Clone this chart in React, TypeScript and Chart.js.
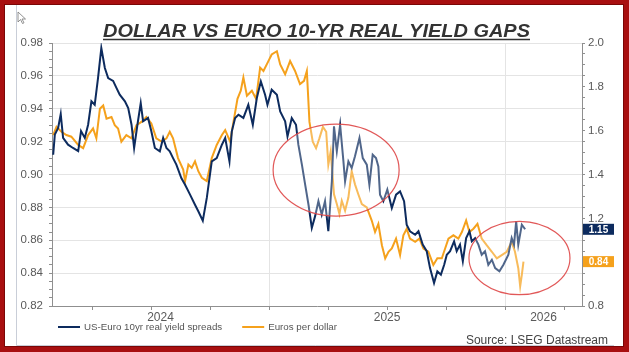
import React, { useEffect, useRef } from 'react';
import { Chart, registerables } from 'chart.js';

Chart.register(...registerables);

const FONT = '"Liberation Sans", Arial, Helvetica, sans-serif';
const TITLE = 'DOLLAR VS EURO 10-YR REAL YIELD GAPS';
const SOURCE = 'Source: LSEG Datastream';
const seriesNames = ['US-Euro 10yr real yield spreads', 'Euros per dollar'];
const seriesColors = ['#0d2b5e', '#f5a11c'];
const endLabels = ['1.15', '0.84'];

const yearLabels = ['2024', '2025', '2026'];
const yearStarts = [2024, 2025, 2026];
const quarterTicks = [2024.25, 2024.5, 2024.75, 2025, 2025.25, 2025.5, 2025.75, 2026, 2026.25];
const X_MIN = 2024.08;
const X_MAX = 2026.326;
const leftTickValues = [0.82, 0.84, 0.86, 0.88, 0.9, 0.92, 0.94, 0.96, 0.98];
const rightTickValues = [0.8, 1.0, 1.2, 1.4, 1.6, 1.8, 2.0];

// US-Euro 10yr real yield spread (right axis), x = decimal year
const spreadDates = [
  2024.085, 2024.092, 2024.106, 2024.117, 2024.127, 2024.148, 2024.169, 2024.191, 2024.203, 2024.219,
  2024.233, 2024.247, 2024.261, 2024.275, 2024.289, 2024.304, 2024.318, 2024.339, 2024.353, 2024.367,
  2024.389, 2024.403, 2024.417, 2024.428, 2024.442, 2024.456, 2024.466, 2024.487, 2024.501, 2024.516,
  2024.537, 2024.551, 2024.565, 2024.579, 2024.593, 2024.607, 2024.628, 2024.644, 2024.665, 2024.686,
  2024.7, 2024.719, 2024.736, 2024.757, 2024.778, 2024.8, 2024.814, 2024.832, 2024.842, 2024.856,
  2024.87, 2024.891, 2024.912, 2024.931, 2024.948, 2024.965, 2024.983, 2024.993, 2025.011, 2025.033,
  2025.047, 2025.068, 2025.078, 2025.096, 2025.114, 2025.124, 2025.139, 2025.153, 2025.167, 2025.181,
  2025.195, 2025.209, 2025.223, 2025.237, 2025.251, 2025.266, 2025.275, 2025.287, 2025.301, 2025.315,
  2025.322, 2025.336, 2025.35, 2025.364, 2025.383, 2025.397, 2025.414, 2025.425, 2025.439, 2025.453,
  2025.463, 2025.47, 2025.484, 2025.501, 2025.52, 2025.538, 2025.555, 2025.572, 2025.583, 2025.597,
  2025.619, 2025.633, 2025.651, 2025.668, 2025.682, 2025.699, 2025.713, 2025.728, 2025.742, 2025.753,
  2025.767, 2025.784, 2025.795, 2025.809, 2025.821, 2025.835, 2025.849, 2025.859, 2025.873, 2025.887,
  2025.901, 2025.915, 2025.929, 2025.944, 2025.958, 2025.976, 2025.993, 2026.014, 2026.028, 2026.038,
  2026.047, 2026.056, 2026.071, 2026.085,
];
const spreadValues = [
  1.49, 1.582, 1.612, 1.676, 1.567, 1.536, 1.521, 1.507, 1.598, 1.567,
  1.627, 1.734, 1.718, 1.84, 1.977, 1.886, 1.84, 1.827, 1.795, 1.764,
  1.734, 1.703, 1.627, 1.521, 1.627, 1.726, 1.643, 1.658, 1.597, 1.521,
  1.506, 1.567, 1.521, 1.506, 1.475, 1.445, 1.384, 1.353, 1.308, 1.262,
  1.232, 1.189, 1.293, 1.46, 1.475, 1.536, 1.567, 1.46, 1.597, 1.658,
  1.673, 1.658, 1.718, 1.627, 1.749, 1.825, 1.764, 1.718, 1.787, 1.764,
  1.688, 1.643, 1.574, 1.658, 1.627, 1.536, 1.445, 1.353, 1.262, 1.156,
  1.21, 1.278, 1.217, 1.278, 1.141, 1.369, 1.62, 1.506, 1.627, 1.46,
  1.369, 1.46, 1.43, 1.483, 1.567, 1.475, 1.445, 1.353, 1.49, 1.475,
  1.437, 1.308, 1.278, 1.331, 1.247, 1.308, 1.323, 1.278, 1.171, 1.141,
  1.125, 1.141, 1.08, 1.05, 0.973, 0.905, 0.958, 0.943, 0.988, 1.034,
  1.05, 1.095, 1.05, 1.08, 1.004, 1.11, 1.141, 1.095, 1.11, 1.08,
  1.034, 1.05, 0.988, 1.011, 0.973, 0.958, 0.988, 1.034, 1.11, 1.08,
  1.186, 1.08, 1.171, 1.15,
];

// Euros per dollar (left axis)
const eurDates = [
  2024.085, 2024.099, 2024.12, 2024.141, 2024.162, 2024.191, 2024.212, 2024.233, 2024.254, 2024.268,
  2024.283, 2024.297, 2024.311, 2024.332, 2024.346, 2024.36, 2024.374, 2024.395, 2024.417, 2024.438,
  2024.459, 2024.48, 2024.501, 2024.522, 2024.544, 2024.565, 2024.579, 2024.593, 2024.614, 2024.636,
  2024.644, 2024.658, 2024.672, 2024.686, 2024.7, 2024.715, 2024.736, 2024.757, 2024.778, 2024.8,
  2024.814, 2024.835, 2024.849, 2024.866, 2024.88, 2024.891, 2024.906, 2024.927, 2024.945, 2024.962,
  2024.976, 2024.997, 2025.011, 2025.033, 2025.047, 2025.068, 2025.089, 2025.11, 2025.131, 2025.148,
  2025.16, 2025.171, 2025.185, 2025.199, 2025.213, 2025.228, 2025.242, 2025.251, 2025.261, 2025.275,
  2025.287, 2025.298, 2025.308, 2025.322, 2025.336, 2025.35, 2025.364, 2025.378, 2025.393, 2025.414,
  2025.435, 2025.449, 2025.463, 2025.478, 2025.492, 2025.506, 2025.52, 2025.538, 2025.555, 2025.569,
  2025.583, 2025.597, 2025.619, 2025.637, 2025.654, 2025.675, 2025.696, 2025.713, 2025.732, 2025.746,
  2025.76, 2025.781, 2025.802, 2025.817, 2025.835, 2025.849, 2025.866, 2025.883, 2025.901, 2025.922,
  2025.944, 2025.965, 2025.986, 2026.007, 2026.028, 2026.042, 2026.056, 2026.064, 2026.071, 2026.078,
];
const eurValues = [
  0.924, 0.929, 0.926, 0.924, 0.923, 0.918, 0.916, 0.924, 0.928, 0.922,
  0.94, 0.942, 0.934, 0.935, 0.93, 0.928, 0.92, 0.924, 0.922, 0.93,
  0.932, 0.935, 0.931, 0.922, 0.92, 0.922, 0.926, 0.922, 0.91, 0.903,
  0.896, 0.906, 0.904, 0.908, 0.902, 0.898, 0.896, 0.91, 0.918, 0.924,
  0.927, 0.92, 0.932, 0.946, 0.951, 0.959, 0.948, 0.951, 0.946, 0.965,
  0.963, 0.969, 0.973, 0.975, 0.967, 0.961, 0.969, 0.963, 0.955, 0.957,
  0.963, 0.932, 0.92, 0.916, 0.922, 0.929, 0.926, 0.906, 0.914, 0.888,
  0.882, 0.876, 0.884, 0.878, 0.886, 0.902, 0.894, 0.888, 0.882, 0.88,
  0.872, 0.865, 0.87, 0.857, 0.849, 0.853, 0.855, 0.861, 0.851, 0.863,
  0.867, 0.861, 0.859, 0.861, 0.855, 0.853, 0.845, 0.849, 0.849, 0.855,
  0.861, 0.863, 0.861, 0.865, 0.872, 0.865, 0.867, 0.87, 0.861, 0.857,
  0.853, 0.849, 0.851, 0.853, 0.859, 0.853, 0.843, 0.832, 0.839, 0.847,
];

// hand-drawn red ellipses (in data units: x years, y left-axis units)
const ellipseCenterX = [2025.284, 2026.061];
const ellipseCenterY = [0.9027, 0.8492];
const ellipseRadiusX = [0.267, 0.214];
const ellipseRadiusY = [0.028, 0.0223];

function buildYTicks(majors: number[], decimals: number) {
  const out: any[] = [];
  for (let i = 0; i < majors.length; i++) {
    out.push({ value: majors[i], lbl: majors[i].toFixed(decimals), isMajor: true });
    if (i < majors.length - 1) {
      const step = (majors[i + 1] - majors[i]) / 4;
      for (let k = 1; k < 4; k++) out.push({ value: majors[i] + k * step });
    }
  }
  return out;
}

function buildXTicks() {
  const t: any[] = quarterTicks.map((v) => ({ value: v, boundary: Math.abs(v - Math.round(v)) < 1e-9 }));
  yearLabels.forEach((lbl, i) => {
    const a = Math.max(yearStarts[i], X_MIN);
    const b = Math.min(yearStarts[i] + 1, X_MAX);
    t.push({ value: (a + b) / 2, lbl });
  });
  return t.sort((p, q) => p.value - q.value);
}

const AXIS = '#8f8f8f';
const GRID = '#e4e4e4';
const LABEL = '#5a5a5a';
const CLEAR = 'rgba(0,0,0,0)';

const decor = {
  id: 'decor',
  beforeDraw(chart: any) {
    const { ctx, width, height } = chart;
    ctx.save();
    ctx.fillStyle = '#a80f10';
    ctx.fillRect(0, 0, width, height);
    ctx.fillStyle = '#ffffff';
    ctx.fillRect(5, 5, width - 11, height - 11);
    ctx.strokeStyle = '#7a0606';
    ctx.lineWidth = 1;
    ctx.strokeRect(4.5, 4.5, width - 10, height - 10);
    ctx.strokeStyle = '#c9ced8';
    ctx.beginPath();
    ctx.moveTo(16.5, 5);
    ctx.lineTo(16.5, 345.5);
    ctx.lineTo(614, 345.5);
    ctx.stroke();
    ctx.restore();
  },
  afterDatasetsDraw(chart: any) {
    const { ctx } = chart;
    const xs = chart.scales.x;
    const ys = chart.scales.y;
    ctx.save();
    for (let i = 0; i < ellipseCenterX.length; i++) {
      const cx = xs.getPixelForValue(ellipseCenterX[i]);
      const cy = ys.getPixelForValue(ellipseCenterY[i]);
      const rx = Math.abs(xs.getPixelForValue(ellipseCenterX[i] + ellipseRadiusX[i]) - cx);
      const ry = Math.abs(ys.getPixelForValue(ellipseCenterY[i] + ellipseRadiusY[i]) - cy);
      ctx.beginPath();
      ctx.ellipse(cx, cy, rx, ry, 0, 0, Math.PI * 2);
      ctx.fillStyle = 'rgba(255,255,255,0.28)';
      ctx.fill();
      ctx.strokeStyle = 'rgba(222,70,70,0.9)';
      ctx.lineWidth = 1.2;
      ctx.stroke();
    }
    ctx.restore();
  },
  afterDraw(chart: any) {
    const { ctx, chartArea } = chart;
    ctx.save();
    // end-value boxes
    chart.data.datasets.forEach((ds: any, i: number) => {
      const last = ds.data[ds.data.length - 1];
      const sc = chart.scales[ds.yAxisID];
      const y = sc.getPixelForValue(last.y);
      const x0 = chartArea.right + 1;
      ctx.fillStyle = seriesColors[i];
      ctx.fillRect(x0, y - 5.5, 31, 11);
      ctx.fillStyle = '#ffffff';
      ctx.font = `bold 10px ${FONT}`;
      ctx.textAlign = 'center';
      ctx.textBaseline = 'middle';
      ctx.fillText(endLabels[i], x0 + 15.5, y + 0.5);
    });
    // title
    ctx.font = `italic bold 18px ${FONT}`;
    const w = ctx.measureText(TITLE).width;
    const target = 427;
    const cx = 316.5;
    ctx.save();
    ctx.translate(cx, 37);
    ctx.scale(target / w, 1);
    ctx.fillStyle = '#333333';
    ctx.textAlign = 'center';
    ctx.textBaseline = 'alphabetic';
    ctx.fillText(TITLE, 0, 0);
    ctx.restore();
    ctx.strokeStyle = '#333333';
    ctx.lineWidth = 1.5;
    ctx.beginPath();
    ctx.moveTo(cx - target / 2, 39.5);
    ctx.lineTo(cx + target / 2, 39.5);
    ctx.stroke();
    // legend
    ctx.font = `9.75px ${FONT}`;
    ctx.textBaseline = 'middle';
    ctx.textAlign = 'left';
    let lx = 58;
    const ly = 327;
    chart.data.datasets.forEach((ds: any, i: number) => {
      ctx.strokeStyle = seriesColors[i];
      ctx.lineWidth = 2;
      ctx.beginPath();
      ctx.moveTo(lx, ly);
      ctx.lineTo(lx + 22, ly);
      ctx.stroke();
      ctx.fillStyle = '#555555';
      ctx.fillText(ds.label, lx + 26, ly + 0.5);
      lx += 26 + ctx.measureText(ds.label).width + 20;
    });
    // source
    ctx.font = `12px ${FONT}`;
    ctx.fillStyle = '#444444';
    ctx.textAlign = 'right';
    ctx.fillText(SOURCE, 608, 341);
    // mouse cursor glyph
    ctx.beginPath();
    ctx.moveTo(18, 12);
    ctx.lineTo(18, 22);
    ctx.lineTo(20.5, 19.5);
    ctx.lineTo(22.5, 23.5);
    ctx.lineTo(24, 22.8);
    ctx.lineTo(22, 19);
    ctx.lineTo(25.5, 19);
    ctx.closePath();
    ctx.fillStyle = '#ffffff';
    ctx.fill();
    ctx.strokeStyle = '#777777';
    ctx.lineWidth = 0.8;
    ctx.stroke();
    ctx.restore();
  },
};

export default function App() {
  const ref = useRef<HTMLCanvasElement>(null);
  useEffect(() => {
    const spreadPts = spreadDates.map((d, i) => ({ x: d, y: spreadValues[i] }));
    const eurPts = eurDates.map((d, i) => ({ x: d, y: eurValues[i] }));
    const leftTicks = buildYTicks(leftTickValues, 2);
    const rightTicks = buildYTicks(rightTickValues, 1);
    const xTicks = buildXTicks();
    const chart = new Chart(ref.current as HTMLCanvasElement, {
      type: 'line',
      data: {
        datasets: [
          {
            label: seriesNames[0],
            data: spreadPts,
            yAxisID: 'y1',
            borderColor: seriesColors[0],
            borderWidth: 2,
            pointRadius: 0,
            tension: 0,
          },
          {
            label: seriesNames[1],
            data: eurPts,
            yAxisID: 'y',
            borderColor: seriesColors[1],
            borderWidth: 2,
            pointRadius: 0,
            tension: 0,
          },
        ],
      },
      options: {
        responsive: false,
        animation: false,
        devicePixelRatio: 1,
        layout: { padding: { top: 43, left: 0, right: 0, bottom: 0 } },
        plugins: { legend: { display: false }, tooltip: { enabled: false }, title: { display: false } },
        scales: {
          x: {
            type: 'linear',
            min: X_MIN,
            max: X_MAX,
            afterFit: (s: any) => { s.height = 46; },
            afterBuildTicks: (s: any) => { s.ticks = xTicks; },
            grid: {
              color: (c: any) => (c.tick && c.tick.boundary ? GRID : CLEAR),
              tickColor: (c: any) => (c.tick && c.tick.lbl ? CLEAR : AXIS),
              tickLength: 4,
              lineWidth: 1,
            },
            border: { color: AXIS },
            ticks: {
              autoSkip: false,
              maxRotation: 0,
              padding: 0,
              color: LABEL,
              font: { family: FONT, size: 12 },
              callback: (v: any, i: number, t: any[]) => (t[i] && t[i].lbl) || '',
            },
          },
          y: {
            type: 'linear',
            position: 'left',
            min: 0.82,
            max: 0.98,
            afterFit: (s: any) => { s.width = 52; },
            afterBuildTicks: (s: any) => { s.ticks = leftTicks; },
            grid: {
              color: (c: any) => (c.tick && c.tick.isMajor ? GRID : CLEAR),
              tickColor: AXIS,
              tickLength: 3,
            },
            border: { color: AXIS },
            ticks: {
              autoSkip: false,
              padding: 6,
              color: LABEL,
              font: { family: FONT, size: 11.5 },
              callback: (v: any, i: number, t: any[]) => (t[i] && t[i].lbl) || '',
            },
          },
          y1: {
            type: 'linear',
            position: 'right',
            min: 0.8,
            max: 2.0,
            afterFit: (s: any) => { s.width = 47; },
            afterBuildTicks: (s: any) => { s.ticks = rightTicks; },
            grid: { drawOnChartArea: false, tickColor: AXIS, tickLength: 3 },
            border: { color: AXIS },
            ticks: {
              autoSkip: false,
              padding: 3,
              color: LABEL,
              font: { family: FONT, size: 11.5 },
              callback: (v: any, i: number, t: any[]) => (t[i] && t[i].lbl) || '',
            },
          },
        },
      },
      plugins: [decor],
    } as any);
    return () => chart.destroy();
  }, []);
  return (
    <div style={{ position: 'fixed', left: 0, top: 0, width: 629, height: 352 }}>
      <canvas ref={ref} width={629} height={352} style={{ display: 'block', width: 629, height: 352 }} />
    </div>
  );
}
